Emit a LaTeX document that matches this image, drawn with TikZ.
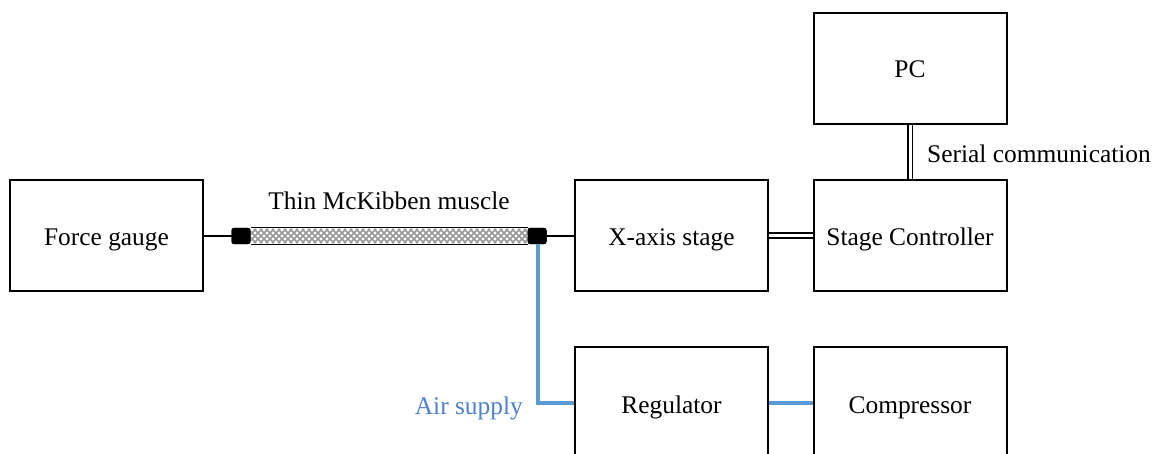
\documentclass[tikz,border=0pt]{standalone}
\usepackage{fontspec}
\setmainfont{Liberation Serif}
\definecolor{airblue}{RGB}{91,155,213}
\definecolor{airtext}{RGB}{78,128,205}
\begin{document}
\begin{tikzpicture}[x=1pt,y=1pt,
  box/.style={draw=black, line width=2pt, minimum width=193pt, minimum height=111pt, inner sep=0pt, text height=19pt, text depth=0pt, font=\fontsize{25.4}{30}\selectfont},
  lbl/.style={inner sep=0pt, text height=19pt, text depth=0pt, font=\fontsize{25.4}{30}\selectfont},
  wire/.style={line width=2pt},
  dbl/.style={double, double distance=3pt, line width=1.6pt},
  air/.style={draw=airblue, line width=4pt},
  endcap/.style={fill=black, draw=black, rounded corners=2pt, line width=1pt, minimum width=18pt, minimum height=15pt, inner sep=0pt}]
\clip (0,0) rectangle (1155,-454);
\fill[white] (0,0) rectangle (1155,-454);

\node[box] (fg) at (106.5,-235.5) {Force gauge};
\node[box] (xs) at (671.5,-235.5) {X-axis stage};
\node[box] (sc) at (910,-235.5) {Stage Controller};
\node[box] (pc) at (910,-68.5) {PC};
\node[box, minimum height=114pt] (rg) at (671.5,-404) {Regulator};
\node[box, minimum height=114pt] (cp) at (910,-404) {Compressor};

% muscle
\node[endcap] (capl) at (241,-236) {};
\node[endcap] (capr) at (537,-236) {};
\begin{scope}
  \clip (250,-229) rectangle (528,-243);
  \fill[white] (250,-229) rectangle (528,-243);
  \foreach \i in {0,...,52} {
    \draw[gray!80, line width=1.6pt] (236+\i*6,-243) -- ++(14,14);
    \draw[gray!80, line width=1.6pt] (236+\i*6,-229) -- ++(14,-14);
  }
\end{scope}
\draw[line width=1pt] (capl.north east) -- (capr.north west);
\draw[line width=1pt] (capl.south east) -- (capr.south west);
\node[endcap] at (241,-236) {};
\node[endcap] at (537,-236) {};
\node[lbl] (ml) at (389,-200) {Thin McKibben muscle};

\draw[wire] (fg.east |- 0,-236) -- (capl.west);
\draw[wire] (capr.east) -- (xs.west |- 0,-236);
\draw[dbl] (xs.east) -- (sc.west);
\draw[dbl] (pc.south) -- (sc.north);
\node[lbl, anchor=west] (ser) at (927,-153) {Serial communication};

\coordinate (bend) at (538,-403);
\draw[air] (capr.south -| bend) -- (bend) -- (rg.west |- bend);
\draw[air] (rg.east |- bend) -- (cp.west |- bend);
\node[lbl, anchor=east, text=airtext] (as) at (523,-405) {Air supply};
\end{tikzpicture}
\end{document}
